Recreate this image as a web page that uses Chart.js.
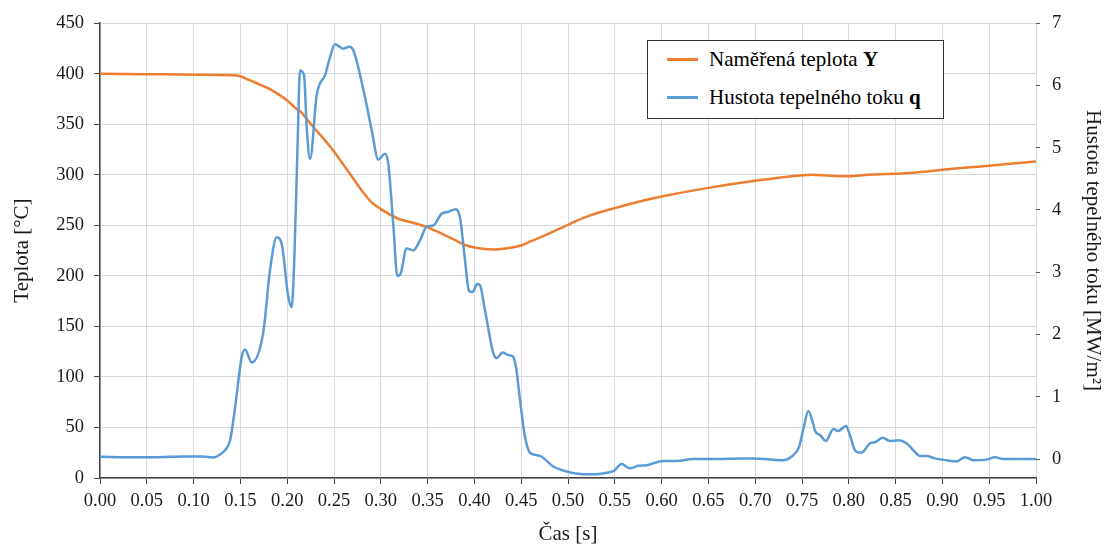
<!DOCTYPE html>
<html>
<head>
<meta charset="utf-8">
<script src="https://cdn.jsdelivr.net/npm/chart.js@4"></script>
<style>
  body { margin: 0; background: #fff; }
  #wrap { position: relative; width: 1109px; height: 548px; }
  #legend {
    position: absolute; left: 647px; top: 40px; width: 295px; height: 77px;
    border: 1px solid #333; background: #fff;
    font-family: 'Liberation Serif', serif; font-size: 21px; color: #000;
  }
  .item { position: absolute; left: 0; height: 24px; line-height: 24px; white-space: nowrap; }
  .swatch { position: absolute; left: 19px; top: 11px; width: 31px; height: 3px; }
  .label { position: absolute; left: 61px; top: 0; }
</style>
</head>
<body>
<div id="wrap">
  <canvas id="chart" width="1109" height="548"></canvas>
  <div id="legend">
    <div class="item" style="top:6px"><span class="swatch" style="background:#ED7D31"></span><span class="label">Naměřená teplota <b>Y</b></span></div>
    <div class="item" style="top:44px"><span class="swatch" style="background:#5B9BD5"></span><span class="label">Hustota tepelného toku <b>q</b></span></div>
  </div>
</div>
<script>
// measured temperature Y [°C]
const tempTime = [0, 0.05, 0.10, 0.14, 0.15, 0.16, 0.17, 0.18, 0.19, 0.20, 0.21, 0.215, 0.22, 0.23, 0.24, 0.25,
  0.26, 0.27, 0.28, 0.29, 0.30, 0.31, 0.32, 0.33, 0.34, 0.35, 0.36, 0.37, 0.38, 0.39, 0.40, 0.42, 0.44, 0.45,
  0.46, 0.48, 0.50, 0.52, 0.55, 0.583, 0.60, 0.65, 0.70, 0.75, 0.76, 0.78, 0.80, 0.82, 0.86, 0.88, 0.90, 0.95, 1.00];
const tempValues = [400, 399.5, 399, 398.5, 397.5, 393.5, 389.5, 385.5, 380, 373.5, 365, 362, 356, 345, 334.5, 323,
  310, 297, 284, 273, 266, 260.5, 256, 253.5, 251, 248, 244, 239.5, 235, 230.5, 228, 226, 228, 230,
  234, 242, 250.5, 258.5, 267, 275, 278.5, 287, 294, 299.5, 300, 299, 298.5, 300, 301.5, 303, 305, 309, 313];

// heat flux density q [MW/m2]
const fluxTime = [0, 0.03, 0.06, 0.09, 0.11, 0.121, 0.128, 0.1335, 0.139, 0.144, 0.1514, 0.155, 0.162, 0.1745,
  0.1816, 0.1888, 0.194, 0.2012, 0.2048, 0.2078, 0.211, 0.2137, 0.218, 0.221, 0.2244, 0.2315, 0.235, 0.2404,
  0.2457, 0.251, 0.26, 0.2664, 0.2707, 0.2831, 0.2903, 0.2973, 0.3045, 0.308, 0.3134, 0.3177, 0.3212, 0.3276,
  0.3347, 0.3419, 0.349, 0.356, 0.365, 0.372, 0.38, 0.3846, 0.39, 0.3942, 0.3978, 0.4031, 0.406, 0.4113,
  0.4202, 0.4238, 0.4302, 0.4362, 0.441, 0.4444, 0.4487, 0.454, 0.4594, 0.47, 0.4843, 0.4986, 0.5128, 0.527,
  0.5413, 0.549, 0.5573, 0.5662, 0.5751, 0.584, 0.6018, 0.616, 0.6339, 0.6624, 0.6766, 0.698, 0.73, 0.739,
  0.747, 0.752, 0.7568, 0.7604, 0.764, 0.7692, 0.7756, 0.7835, 0.7888, 0.797, 0.8006, 0.8066, 0.812, 0.8155,
  0.8234, 0.828, 0.8362, 0.844, 0.8529, 0.8619, 0.869, 0.8761, 0.8832, 0.892, 0.9046, 0.9153, 0.9241, 0.933,
  0.9473, 0.9562, 0.965, 0.9829, 1.0];
const fluxValues = [0.035, 0.03, 0.03, 0.04, 0.04, 0.025, 0.07, 0.14, 0.30, 0.79, 1.64, 1.76, 1.55, 2.04,
  3.03, 3.56, 3.46, 2.60, 2.44, 3.3, 5.0, 6.24, 6.16, 5.28, 4.82, 5.84, 6.03, 6.16,
  6.45, 6.66, 6.59, 6.62, 6.56, 5.81, 5.28, 4.81, 4.90, 4.74, 3.75, 2.94, 2.98, 3.38,
  3.35, 3.51, 3.73, 3.75, 3.94, 3.97, 4.01, 3.88, 3.19, 2.70, 2.68, 2.81, 2.79, 2.39,
  1.70, 1.62, 1.71, 1.67, 1.65, 1.48, 0.95, 0.36, 0.10, 0.05, -0.12, -0.20, -0.24, -0.245,
  -0.22, -0.19, -0.08, -0.15, -0.11, -0.10, -0.03, -0.03, 0.0, 0.0, 0.005, 0.01, -0.02, 0.04,
  0.20, 0.52, 0.77, 0.65, 0.45, 0.385, 0.29, 0.48, 0.45, 0.53, 0.41, 0.14, 0.10, 0.12,
  0.26, 0.27, 0.34, 0.29, 0.30, 0.25, 0.14, 0.05, 0.05, 0.01, -0.02, -0.04, 0.03, -0.02,
  -0.01, 0.03, 0.0, 0.0, 0.0];

const tempTicks = [0, 50, 100, 150, 200, 250, 300, 350, 400, 450];
const fluxTicks = [0, 1, 2, 3, 4, 5, 6, 7];

const serif = "'Liberation Serif', 'Times New Roman', serif";
Chart.defaults.font.family = serif;
Chart.defaults.color = '#1a1a1a';

const tickFont = { family: serif, size: 18.5 };
const titleFont = { family: serif, size: 21 };

const toPoints = (xs, ys) => xs.map((x, i) => ({ x, y: ys[i] }));

new Chart(document.getElementById('chart'), {
  type: 'line',
  data: {
    datasets: [
      {
        label: 'Naměřená teplota Y',
        data: toPoints(tempTime, tempValues),
        yAxisID: 'y',
        borderColor: '#ED7D31',
        borderWidth: 2.5,
        pointRadius: 0,
        cubicInterpolationMode: 'monotone',
        order: 1
      },
      {
        label: 'Hustota tepelného toku q',
        data: toPoints(fluxTime, fluxValues),
        yAxisID: 'y2',
        borderColor: '#5B9BD5',
        borderWidth: 2.5,
        pointRadius: 0,
        cubicInterpolationMode: 'monotone',
        order: 0
      }
    ]
  },
  options: {
    responsive: false,
    animation: false,
    layout: { padding: { top: 23 } },
    plugins: { legend: { display: false }, tooltip: { enabled: false } },
    scales: {
      x: {
        type: 'linear',
        min: 0,
        max: 1,
        afterFit: (s) => { s.height = 70; },
        ticks: { stepSize: 0.05, font: tickFont, padding: 6, maxRotation: 0,
          callback: (v) => v.toFixed(2) },
        grid: { color: '#d9d9d9', tickColor: '#444', tickLength: 6 },
        border: { color: '#444', width: 1.5 },
        title: { display: true, text: 'Čas [s]', font: titleFont, padding: { top: 0, bottom: 1 } }
      },
      y: {
        position: 'left',
        min: 0,
        max: 450,
        afterFit: (s) => { s.width = 100; },
        afterBuildTicks: (s) => { s.ticks = tempTicks.map((v) => ({ value: v })); },
        ticks: { font: tickFont, padding: 10 },
        grid: { color: '#d9d9d9', tickColor: '#444', tickLength: 6 },
        border: { color: '#444', width: 1.5 },
        title: { display: true, text: 'Teplota [°C]', font: titleFont, padding: { top: 10, bottom: 0 } }
      },
      y2: {
        position: 'right',
        min: -0.305,
        max: 7,
        afterFit: (s) => { s.width = 73; },
        afterBuildTicks: (s) => { s.ticks = fluxTicks.map((v) => ({ value: v })); },
        ticks: { font: tickFont, padding: 12 },
        grid: { drawOnChartArea: false, tickColor: '#555', tickLength: 4 },
        border: { display: false },
        title: { display: true, text: 'Hustota tepelného toku [MW/m²]', font: titleFont, padding: { top: 4, bottom: 0 } }
      }
    }
  }
});
</script>
</body>
</html>
